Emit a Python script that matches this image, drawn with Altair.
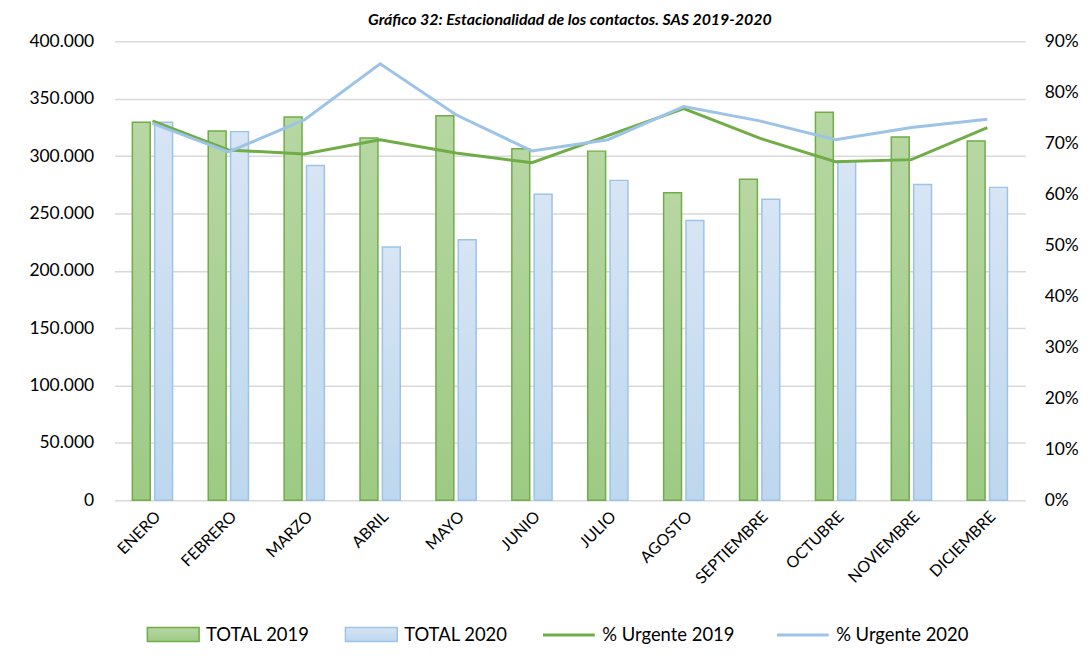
import altair as alt
import pandas as pd

meses = ["ENERO", "FEBRERO", "MARZO", "ABRIL", "MAYO", "JUNIO", "JULIO",
         "AGOSTO", "SEPTIEMBRE", "OCTUBRE", "NOVIEMBRE", "DICIEMBRE"]
total_2019 = [329500, 321900, 334000, 315800, 335200, 306300, 304300,
              268100, 279700, 338100, 316700, 313200]
total_2020 = [329500, 321300, 291800, 220700, 227000, 266700, 278800,
              243800, 262300, 295900, 275300, 272700]
urg_2019 = [0.744, 0.687, 0.679, 0.707, 0.681, 0.662, 0.715,
            0.768, 0.710, 0.664, 0.668, 0.731]
urg_2020 = [0.739, 0.683, 0.746, 0.856, 0.756, 0.685, 0.707,
            0.772, 0.744, 0.707, 0.731, 0.747]

bars = pd.DataFrame({
    "mes": meses * 2,
    "serie": ["TOTAL 2019"] * 12 + ["TOTAL 2020"] * 12,
    "valor": total_2019 + total_2020,
})
lines = pd.DataFrame({
    "mes": meses * 2,
    "serie": ["% Urgente 2019"] * 12 + ["% Urgente 2020"] * 12,
    "pct": urg_2019 + urg_2020,
})

FONT = "Lato"
GREEN = "#70ad47"
BLUE = "#9dc3e6"
grad_green = alt.Gradient(gradient="linear", x1=0, y1=0, x2=0, y2=1,
                          stops=[alt.GradientStop(color="#b7d7a3", offset=0),
                                 alt.GradientStop(color="#9dca84", offset=1)])
grad_blue = alt.Gradient(gradient="linear", x1=0, y1=0, x2=0, y2=1,
                         stops=[alt.GradientStop(color="#d7e5f4", offset=0),
                                alt.GradientStop(color="#bdd7ee", offset=1)])

x_enc = alt.X("mes:N", sort=meses,
              scale=alt.Scale(paddingInner=0.47, paddingOuter=0.235),
              axis=alt.Axis(title=None, labelAngle=-45, ticks=False, domain=False,
                            labelFont=FONT, labelFontSize=16, labelColor="#000000",
                            labelPadding=8))
xoff = alt.XOffset("serie:N", scale=alt.Scale(domain=["TOTAL 2019", "TOTAL 2020"],
                                               paddingInner=0.2, paddingOuter=0))

y_left_axis = alt.Axis(title=None, values=list(range(0, 400001, 50000)),
                       labelExpr="replace(format(datum.value, ','), ',', '.')",
                       ticks=False, domain=False, grid=True, gridColor="#d9d9d9",
                       gridWidth=1.5, labelFont=FONT, labelFontSize=17.5,
                       labelColor="#000000", labelPadding=21)
y_scale_left = alt.Scale(domain=[0, 400000], nice=False)
y_scale_right = alt.Scale(domain=[0, 0.9], nice=False)

RECT = "M-1,-0.27H1V0.27H-1Z"
SYM_SIZE = 2704
LEG_Y = 569


def leg(x, sym_type, fillc, sw):
    kw = dict(title=None, orient="none", legendX=x, legendY=LEG_Y, padding=0,
              symbolType=sym_type, symbolSize=SYM_SIZE, symbolStrokeWidth=sw,
              labelFont=FONT, labelFontSize=18.5, labelColor="#000000",
              labelOffset=6)
    if fillc:
        kw["symbolFillColor"] = fillc
    return alt.Legend(**kw)


bar19 = alt.Chart(bars).transform_filter(alt.datum.serie == "TOTAL 2019").mark_bar(
    fill=grad_green, strokeWidth=1.5).encode(
    x=x_enc, xOffset=xoff,
    y=alt.Y("valor:Q", scale=y_scale_left, axis=y_left_axis),
    stroke=alt.Stroke("serie:N", scale=alt.Scale(domain=["TOTAL 2019"], range=[GREEN]),
                      legend=leg(32, RECT, "#aacf92", 1.5)),
)
bar20 = alt.Chart(bars).transform_filter(alt.datum.serie == "TOTAL 2020").mark_bar(
    fill=grad_blue, strokeWidth=1.5).encode(
    x=x_enc, xOffset=xoff,
    y=alt.Y("valor:Q", scale=y_scale_left, axis=None),
    stroke=alt.Stroke("serie:N", scale=alt.Scale(domain=["TOTAL 2020"], range=[BLUE]),
                      legend=leg(231, RECT, "#cadff2", 1.5)),
)
line19 = alt.Chart(lines).transform_filter(alt.datum.serie == "% Urgente 2019").mark_line(
    strokeWidth=3).encode(
    x=x_enc,
    y=alt.Y("pct:Q", scale=y_scale_right,
            axis=alt.Axis(title=None, orient="right", values=[i / 10 for i in range(10)],
                          format=".0%", ticks=False, domain=False, grid=False,
                          labelFont=FONT, labelFontSize=17.5, labelColor="#000000",
                          labelPadding=19)),
    stroke=alt.Stroke("serie:N", scale=alt.Scale(domain=["% Urgente 2019"], range=[GREEN]),
                      legend=leg(429, "stroke", None, 3)),
)
line20 = alt.Chart(lines).transform_filter(alt.datum.serie == "% Urgente 2020").mark_line(
    strokeWidth=3).encode(
    x=x_enc,
    y=alt.Y("pct:Q", scale=y_scale_right, axis=None),
    stroke=alt.Stroke("serie:N", scale=alt.Scale(domain=["% Urgente 2020"], range=[BLUE]),
                      legend=leg(664, "stroke", None, 3)),
)

chart = alt.layer(bar19, bar20, line19, line20).resolve_scale(
    y="independent", stroke="independent"
).properties(
    width=915, height=461,
    title=alt.TitleParams("Gráfico 32: Estacionalidad de los contactos. SAS 2019-2020",
                          font=FONT, fontSize=16, fontWeight="bold", fontStyle="italic",
                          color="#000000", anchor="middle", offset=4),
    padding={"left": 20, "top": 3, "right": 5, "bottom": 5},
).configure_view(stroke=None)

chart.save("out.html", embed_options={"renderer": "svg", "actions": False})
